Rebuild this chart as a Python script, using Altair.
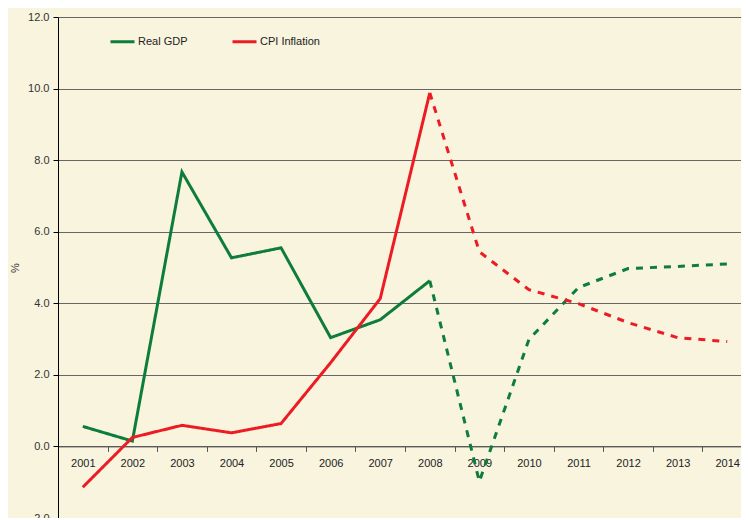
import altair as alt
import pandas as pd

years = ["2001", "2002", "2003", "2004", "2005", "2006", "2007",
         "2008", "2009", "2010", "2011", "2012", "2013", "2014"]
gdp_actual = [0.56, 0.15, 7.67, 5.27, 5.55, 3.04, 3.54, 4.63]
gdp_forecast = [4.63, -0.98, 2.99, 4.44, 4.97, 5.03, 5.10]
cpi_actual = [-1.14, 0.25, 0.59, 0.38, 0.64, 2.34, 4.13, 9.88]
cpi_forecast = [9.88, 5.44, 4.38, 3.99, 3.46, 3.04, 2.93]
series_names = ["Real GDP", "CPI Inflation"]
series_colors = ["#0E7C3A", "#ED1C24"]

rows = []
for name, act, fc in [("Real GDP", gdp_actual, gdp_forecast),
                      ("CPI Inflation", cpi_actual, cpi_forecast)]:
    for i, v in enumerate(act):
        rows.append({"year": years[i], "value": v, "series": name, "seg": "actual"})
    for i, v in enumerate(fc):
        rows.append({"year": years[7 + i], "value": v, "series": name, "seg": "forecast"})
df = pd.DataFrame(rows)

FONT = "Liberation Sans"
NARROW = "Liberation Sans Narrow, Arial Narrow, Liberation Sans"

chart = alt.Chart(df).mark_line(strokeWidth=3, strokeCap="butt").encode(
    x=alt.X("year:N", sort=years, title=None,
            scale=alt.Scale(paddingInner=0, paddingOuter=0, range=[0, 694]),
            axis=alt.Axis(labelAngle=0, offset=-71.6, tickBand="extent",
                          domainColor="#555555", tickColor="#555555", tickSize=5,
                          labelFont=NARROW, labelFontSize=11, labelColor="#222222",
                          labelPadding=6, grid=False)),
    y=alt.Y("value:Q", title="%",
            scale=alt.Scale(domain=[-2, 12], nice=False, zero=False),
            axis=alt.Axis(values=[-2, 0, 2, 4, 6, 8, 10, 12], format=".1f",
                          grid=True, gridColor="#666666", gridWidth=1,
                          domainColor="#000000", tickColor="#000000", tickSize=5,
                          labelFont=FONT, labelFontSize=11, labelColor="#333333",
                          labelPadding=4, titleFont=FONT, titleFontSize=11,
                          titleFontWeight="normal", titleColor="#333333",
                          titlePadding=7)),
    color=alt.Color("series:N", sort=series_names,
                    scale=alt.Scale(domain=series_names, range=series_colors),
                    legend=alt.Legend(title=None, orient="none", direction="horizontal",
                                      legendX=51, legendY=11, symbolType="stroke",
                                      symbolSize=576, symbolStrokeWidth=3,
                                      labelFont=FONT, labelFontSize=11,
                                      labelColor="#222222", columnPadding=38,
                                      labelOffset=2)),
    strokeDash=alt.StrokeDash("seg:N",
                              scale=alt.Scale(domain=["actual", "forecast"],
                                              range=[[1, 0], [7, 7]]),
                              legend=None),
    detail="seg:N",
).properties(
    width=683, height=501, background="#F8F4DE",
    padding={"left": 50, "top": 9, "right": 0, "bottom": 0},
    autosize=alt.AutoSizeParams(type="none")
).configure_view(stroke=None)

chart.save("out.html", embed_options={"renderer": "svg", "actions": False})
